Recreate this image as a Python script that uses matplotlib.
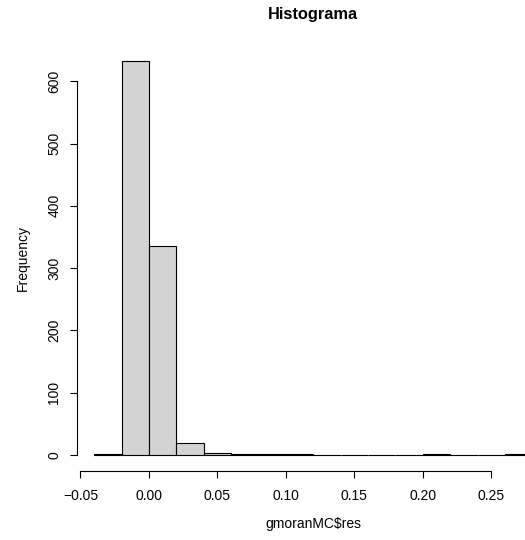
import numpy as np
import matplotlib.pyplot as plt

plt.rcParams['font.family'] = ['Liberation Sans', 'DejaVu Sans']

# histogram of gmoranMC$res (bins of width 0.02)
bin_edges = [-0.04, -0.02, 0.00, 0.02, 0.04, 0.06, 0.08, 0.10, 0.12,
             0.14, 0.16, 0.18, 0.20, 0.22, 0.24, 0.26, 0.28]
counts = [1, 632, 335, 20, 4, 1, 1, 2, 0, 0, 0, 0, 1, 0, 0, 1]
xticks = [-0.05, 0.00, 0.05, 0.10, 0.15, 0.20, 0.25]
yticks = [0, 100, 200, 300, 400, 500, 600]

W, H = 525, 540
fig = plt.figure(figsize=(W / 100, H / 100), dpi=100)

# plot region in pixels (it runs past the right edge like the original)
left, right, top, bottom = 76.6, 549.8, 45.5, 470.8
ax = fig.add_axes([left / W, 1 - bottom / H, (right - left) / W, (bottom - top) / H])

widths = np.diff(bin_edges)
ax.bar(bin_edges[:-1], counts, width=widths, align='edge',
       color='#d3d3d3', edgecolor='black', linewidth=0.8)

ax.set_xlim(-0.0528, 0.2928)
ax.set_ylim(-25.3, 657.3)

for s in ['top', 'right']:
    ax.spines[s].set_visible(False)
ax.spines['bottom'].set_bounds(-0.05, 0.25)
ax.spines['left'].set_bounds(0, 600)
ax.spines['bottom'].set_linewidth(0.8)
ax.spines['left'].set_linewidth(0.8)

ax.set_xticks(xticks)
ax.set_xticklabels(['\u22120.05' if v < 0 else f'{v:.2f}' for v in xticks])
ax.set_yticks(yticks)
ax.set_yticklabels([str(v) for v in yticks], rotation=90, va='center')
ax.tick_params(direction='out', length=5, width=0.8, labelsize=10)
ax.tick_params(axis='x', pad=8.4)
ax.tick_params(axis='y', pad=6)

ax.set_xlabel('gmoranMC$res', fontsize=10, labelpad=10)
ax.set_ylabel('Frequency', fontsize=10, labelpad=12.8)
fig.text((left + right) / 2 / W, 1 - 19 / H, 'Histograma', ha='center', va='baseline',
         fontsize=11.8, fontweight='bold')

fig.savefig('out.png', dpi=100)
